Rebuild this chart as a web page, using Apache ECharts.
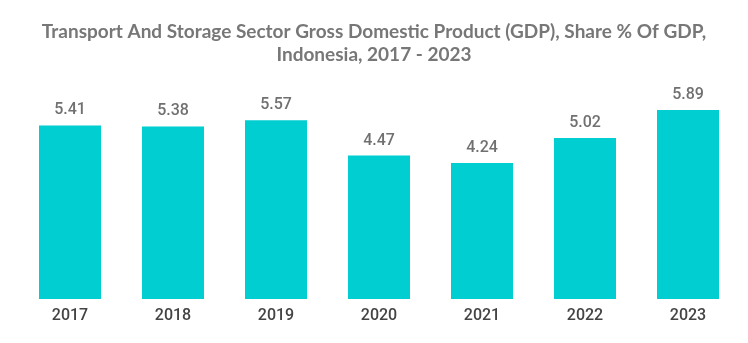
<!DOCTYPE html>
<html><head><meta charset="utf-8">
<script src="https://cdn.jsdelivr.net/npm/echarts@6/dist/echarts.min.js"></script>
<style>html,body{margin:0;padding:0;background:#fff}#c{width:748px;height:343px}</style>
</head><body><div id="c"></div>
<script>
const categories = ['2017','2018','2019','2020','2021','2022','2023'];
const values = [5.41, 5.38, 5.57, 4.47, 4.24, 5.02, 5.89];
const titleText = 'Transport And Storage Sector Gross Domestic Product (GDP), Share % Of GDP,\nIndonesia, 2017 - 2023';

const chart = echarts.init(document.getElementById('c'));
chart.setOption({
  animation: false,
  title: {
    text: titleText,
    left: 'center',
    top: 15,
    textStyle: { fontFamily: 'Lato', fontWeight: 'bold', fontSize: 19, color: '#777777', lineHeight: 23 }
  },
  grid: { left: 18.5, right: 8.5, top: 106.5, bottom: 44, containLabel: false },
  xAxis: {
    type: 'category',
    data: categories,
    axisLine: { show: false },
    axisTick: { show: false },
    axisLabel: { fontFamily: 'Roboto', fontWeight: 500, fontSize: 16, color: '#444', margin: 9 }
  },
  yAxis: { type: 'value', min: 0, max: 6, show: false, splitLine: { show: false } },
  series: [{
    type: 'bar',
    data: values,
    barWidth: 62,
    itemStyle: { color: '#00CED1' },
    label: { show: true, position: 'top', distance: 7, fontFamily: 'Roboto', fontWeight: 500, fontSize: 16, color: '#707070' }
  }]
});
</script></body></html>
